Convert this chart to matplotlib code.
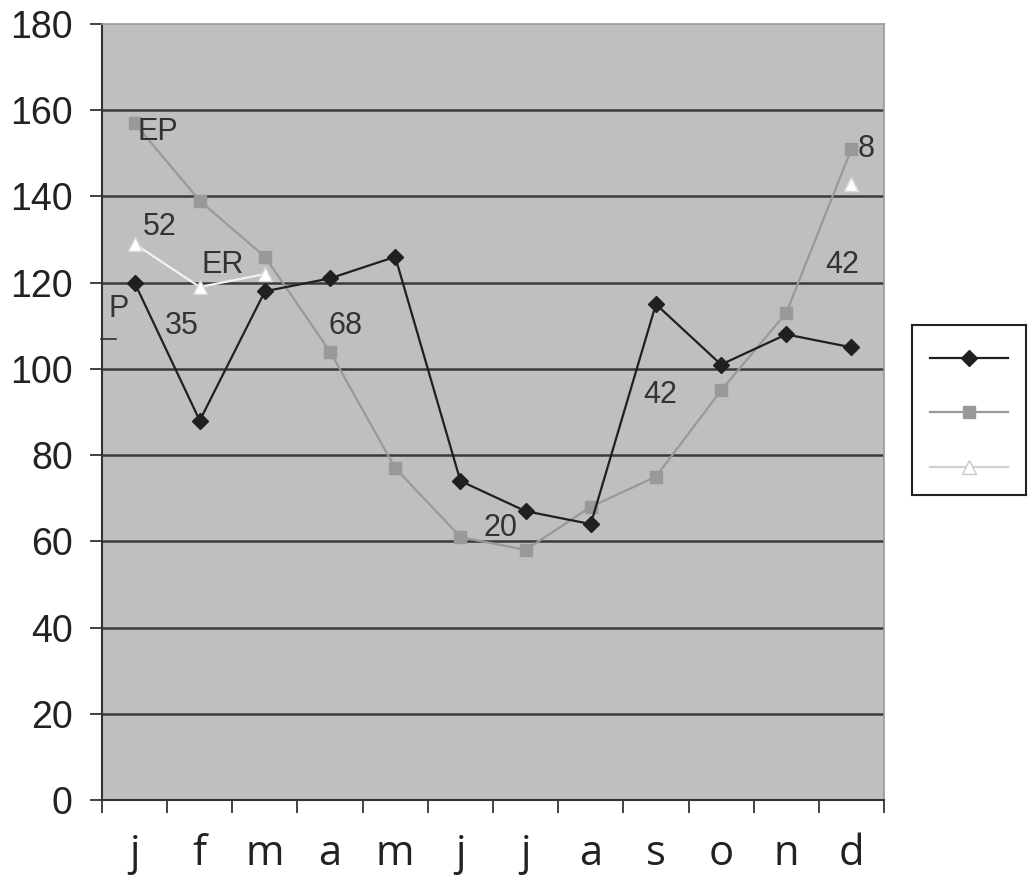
import numpy as np
import matplotlib
matplotlib.use("Agg")
import matplotlib.pyplot as plt

months = ["j", "f", "m", "a", "m", "j", "j", "a", "s", "o", "n", "d"]
P = [120, 88, 118, 121, 126, 74, 67, 64, 115, 101, 108, 105]
EP = [157, 139, 126, 104, 77, 61, 58, 68, 75, 95, 113, 151]
ER = [129, 119, 122, np.nan, np.nan, np.nan, np.nan, np.nan, np.nan, np.nan, np.nan, 143]

# annotation texts and their (category index, value) anchors
ann_texts = ["EP", "52", "ER", "P", "35", "68", "20", "42", "42", "8"]
ann_pos = [(0.05, 155), (0.12, 133), (1.03, 124), (-0.4, 114), (0.47, 110),
           (2.98, 110), (5.35, 63), (7.8, 94), (10.6, 124), (11.1, 151)]

fig = plt.figure(figsize=(10.29, 8.8), dpi=100)
ax = fig.add_axes([102/1029, 1-800/880, 782/1029, 776/880])
ax.set_facecolor("#bfbfbf")

x = np.arange(len(months))
ax.set_xlim(-0.5, 11.5)
ax.set_ylim(0, 180)

for yv in range(20, 180, 20):
    ax.axhline(yv, color="#3a3a3a", lw=1.8, zorder=1)

styles = {
    "P": dict(color="#202020", lw=1.6, marker="D", ms=8.5, mfc="#202020", mec="#202020"),
    "EP": dict(color="#999999", lw=1.6, marker="s", ms=9, mfc="#999999", mec="#999999"),
    "ER": dict(color="#f2f2f2", lw=1.6, marker="^", ms=10, mfc="white", mec="#d8d8d8"),
}

ax.plot(x, EP, zorder=3, **styles["EP"])
ax.plot(x, P, zorder=4, **styles["P"])
ax.plot(x, ER, zorder=3, **styles["ER"])

for t, (px, py) in zip(ann_texts, ann_pos):
    ax.text(px, py, t, fontsize=22, color="#333333", family="Liberation Sans",
            ha="left", va="center", zorder=5)

# small dash near the y axis
ax.plot([-0.52, -0.29], [107, 107], color="#333333", lw=1.2, clip_on=False, zorder=5)

for s in ["top", "right"]:
    ax.spines[s].set_color("#9a9a9a")
    ax.spines[s].set_linewidth(1.2)
ax.spines["left"].set_color("#333333")
ax.spines["left"].set_linewidth(1.5)
ax.spines["bottom"].set_color("#333333")
ax.spines["bottom"].set_linewidth(1.5)

ax.set_yticks(np.arange(0, 181, 20))
ax.tick_params(axis="y", direction="out", length=9, width=1.3, color="#333333",
               labelsize=27, pad=12, labelcolor="#222222")
for lab in ax.get_yticklabels():
    lab.set_family("Liberation Sans")

ax.set_xticks(x)
ax.set_xticklabels(months)
ax.tick_params(axis="x", which="major", length=0, labelsize=30, pad=24,
               labelcolor="#222222")
for lab in ax.get_xticklabels():
    lab.set_family("Open Sans")
ax.set_xticks(np.arange(-0.5, 12, 1), minor=True)
ax.tick_params(axis="x", which="minor", direction="out", length=9, width=1.3,
               color="#333333")

# legend box (no labels in the original)
lax = fig.add_axes([912/1029, 1-495/880, 114/1029, 170/880])
lax.set_xlim(0, 114)
lax.set_ylim(170, 0)
lax.set_xticks([])
lax.set_yticks([])
for s in lax.spines.values():
    s.set_color("#222222")
    s.set_linewidth(1.5)
for key, ly in zip(["P", "EP", "ER"], [33, 87, 142]):
    st = dict(styles[key])
    if key == "ER":
        st["color"] = "#d0d0d0"
        st["mec"] = "#c8c8c8"
    lax.plot([18, 57, 96], [ly, ly, ly], markevery=[1], **st)

fig.savefig("out.png", dpi=100, facecolor="white")
